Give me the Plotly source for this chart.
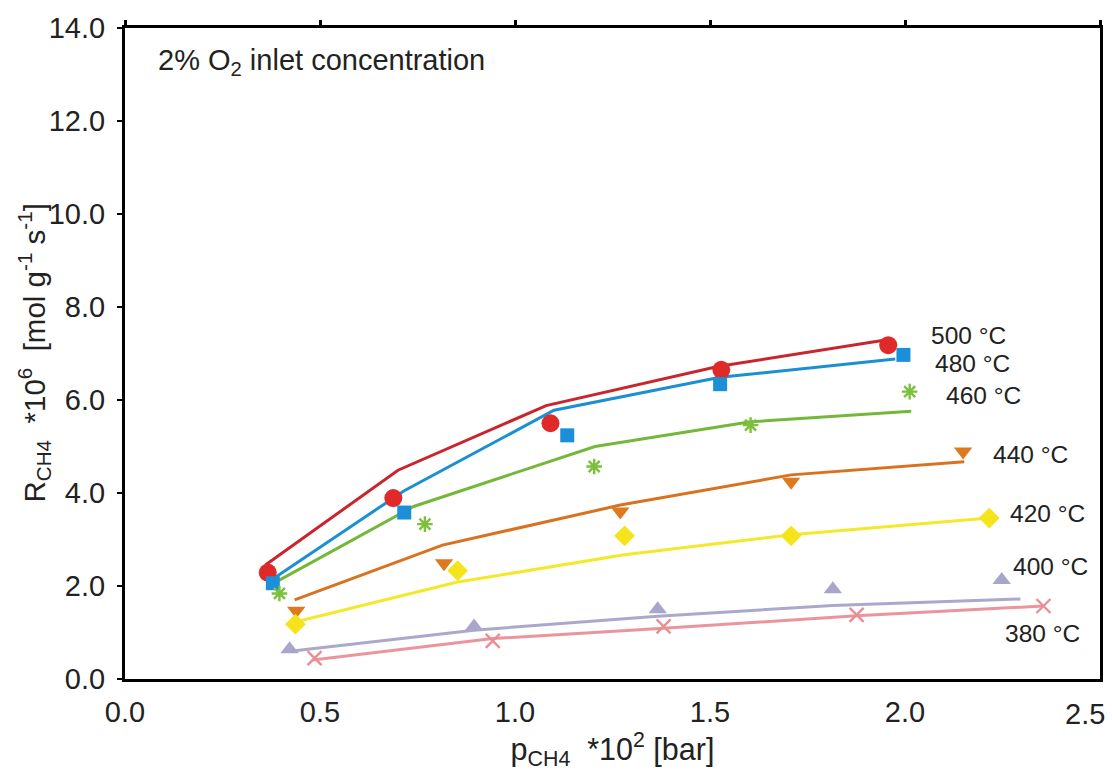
import plotly.graph_objects as go

# ---------------- data ----------------
temps = ["500 °C", "480 °C", "460 °C", "440 °C", "420 °C", "400 °C", "380 °C"]

p500 = [0.366, 0.688, 1.091, 1.529, 1.957]
r500 = [2.29, 3.89, 5.50, 6.65, 7.18]
p480 = [0.379, 0.716, 1.134, 1.526, 1.996]
r480 = [2.06, 3.58, 5.24, 6.34, 6.97]
p460 = [0.396, 0.769, 1.203, 1.604, 2.012]
r460 = [1.84, 3.33, 4.57, 5.46, 6.18]
p440 = [0.439, 0.818, 1.270, 1.708, 2.149]
r440 = [1.47, 2.49, 3.60, 4.24, 4.89]
p420 = [0.437, 0.853, 1.281, 1.708, 2.216]
r420 = [1.18, 2.33, 3.08, 3.08, 3.46]
p400 = [0.422, 0.895, 1.366, 1.815, 2.248]
r400 = [0.64, 1.13, 1.50, 1.93, 2.13]
p380 = [0.486, 0.943, 1.381, 1.876, 2.355]
r380 = [0.45, 0.82, 1.13, 1.38, 1.57]

# model (fitted) lines
m500x = [0.36, 0.70, 1.08, 1.52, 1.95]
m500y = [2.45, 4.49, 5.88, 6.72, 7.29]
m480x = [0.379, 0.716, 1.10, 1.526, 1.975]
m480y = [2.15, 4.05, 5.78, 6.49, 6.88]
m460x = [0.39, 0.74, 1.205, 1.604, 2.016]
m460y = [2.10, 3.71, 5.00, 5.53, 5.76]
m440x = [0.435, 0.814, 1.27, 1.708, 2.152]
m440y = [1.70, 2.88, 3.74, 4.39, 4.67]
m420x = [0.439, 0.85, 1.28, 1.708, 2.216]
m420y = [1.23, 2.08, 2.67, 3.10, 3.46]
m400x = [0.418, 0.895, 1.366, 1.815, 2.296]
m400y = [0.59, 1.05, 1.35, 1.58, 1.72]
m380x = [0.481, 0.943, 1.381, 1.876, 2.355]
m380y = [0.41, 0.87, 1.09, 1.36, 1.57]

# label anchor positions (data coords)
label_x = [2.062, 2.071, 2.10, 2.22, 2.264, 2.271, 2.252]
label_y = [7.38, 6.79, 6.09, 4.82, 3.57, 2.42, 0.98]

x_ticks = [0.0, 0.5, 1.0, 1.5, 2.0, 2.5]
y_ticks = [0.0, 2.0, 4.0, 6.0, 8.0, 10.0, 12.0, 14.0]

x_title = "p<sub>CH4</sub>  *10<sup>2</sup> [bar]"
y_title = "R<sub>CH4</sub>  *10<sup>6</sup>  [mol g<sup>-1</sup> s<sup>-1</sup>]"

FONT = "Arial, Liberation Sans, sans-serif"
TXT = "#222222"

series = [
    (p500, r500, m500x, m500y, "#c8262c", "#e02a2a", "circle", 18, None),
    (p480, r480, m480x, m480y, "#1c8fd3", "#1b8fd8", "square", 14, None),
    (p460, r460, m460x, m460y, "#74b83a", "#7cc03c", "asterisk-open", 13, 2.4),
    (p440, r440, m440x, m440y, "#d8721f", "#dd7a20", "triangle-down", 16, None),
    (p420, r420, m420x, m420y, "#f4e82a", "#f5e41c", "diamond", 16, None),
    (p400, r400, m400x, m400y, "#aaa8cc", "#a9a6cb", "triangle-up", 16, None),
    (p380, r380, m380x, m380y, "#ec949b", "#ea8e96", "x-thin-open", 14, 2.4),
]

fig = go.Figure()
for (px, ry, mx, my, lc, mc, sym, sz, lw) in series:
    fig.add_trace(go.Scatter(x=mx, y=my, mode="lines",
                             line=dict(color=lc, width=3), showlegend=False,
                             hoverinfo="skip"))
for (px, ry, mx, my, lc, mc, sym, sz, lw) in series:
    mk = dict(symbol=sym, size=sz, color=mc)
    if lw:
        mk["line"] = dict(color=mc, width=lw)
    else:
        mk["line"] = dict(width=0)
    fig.add_trace(go.Scatter(x=px, y=ry, mode="markers", marker=mk,
                             showlegend=False))

# dummy trace to activate the top axis (ticks only)
fig.add_trace(go.Scatter(x=[x_ticks[0]], y=[y_ticks[0]], xaxis="x2", mode="markers",
                         marker=dict(opacity=0), showlegend=False, hoverinfo="skip"))

for t, lx, ly in zip(temps, label_x, label_y):
    fig.add_annotation(x=lx, y=ly, text=t, showarrow=False, xanchor="left",
                       yanchor="middle", font=dict(family=FONT, size=24.5, color=TXT))

fig.add_annotation(x=0.079, y=13.27, text="2% O<sub>2</sub> inlet concentration",
                   showarrow=False, xanchor="left", yanchor="middle",
                   font=dict(family=FONT, size=29, color=TXT))

# last x tick label sits inside the frame edge in the reference
fig.add_annotation(x=x_ticks[-1], xref="x", y=0, yref="paper", text=f"{x_ticks[-1]:.1f}",
                   showarrow=False, xanchor="center", yanchor="middle",
                   xshift=-15, yshift=-35,
                   font=dict(family=FONT, size=29, color=TXT))

# y-axis title (placed as rotated text)
fig.add_annotation(x=0, xref="paper", y=0.5, yref="paper", text=y_title,
                   textangle=-90, showarrow=False, xanchor="center", yanchor="middle",
                   xshift=-91, font=dict(family=FONT, size=29.5, color=TXT))

fig.update_layout(
    width=1112, height=772,
    margin=dict(l=125, r=9, t=28, b=93),
    plot_bgcolor="white", paper_bgcolor="white",
    font=dict(family=FONT, color=TXT),
    xaxis=dict(
        range=[0, 2.5], tickvals=x_ticks,
        ticktext=[f"{v:.1f}" for v in x_ticks[:-1]] + [""],
        showgrid=False, zeroline=False, showline=True, linecolor="black", linewidth=3,
        mirror=True, ticks="", ticklabelstandoff=5,
        tickfont=dict(family=FONT, size=29, color=TXT),
        title=dict(text=x_title, font=dict(family=FONT, size=30.5, color=TXT), standoff=1),
    ),
    xaxis2=dict(
        range=[0, 2.5], tickvals=x_ticks, overlaying="x", side="top",
        showticklabels=False, showgrid=False, zeroline=False, showline=False,
        ticks="outside", ticklen=7, tickwidth=2.5, tickcolor="black",
    ),
    yaxis=dict(
        range=[0, 14], tickvals=y_ticks, ticktext=[f"{v:.1f}" for v in y_ticks],
        showgrid=False, zeroline=False, showline=True, linecolor="black", linewidth=3,
        mirror=True, ticks="outside", ticklen=5, tickwidth=2, tickcolor="black",
        ticklabelstandoff=6,
        tickfont=dict(family=FONT, size=29, color=TXT),
    ),
)

fig.write_html("out.html", config={"displayModeBar": False},
               post_script="document.body.style.margin='0';document.body.style.overflow='hidden';")
